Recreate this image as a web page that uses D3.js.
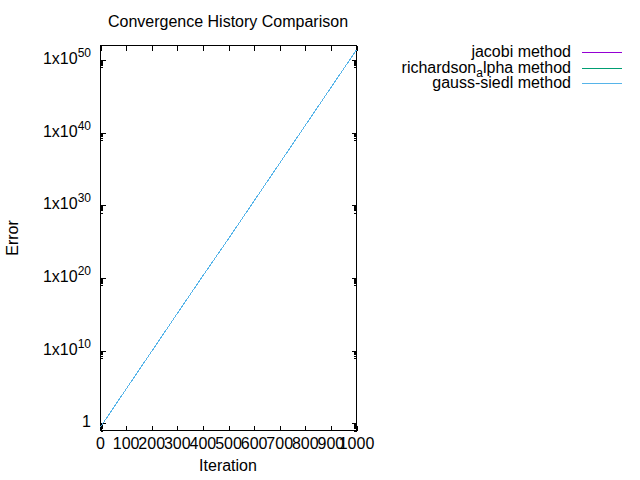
<!DOCTYPE html>
<html>
<head>
<meta charset="utf-8">
<script src="https://cdn.jsdelivr.net/npm/d3@7"></script>
<style>
  body { margin: 0; background: #fff; }
  svg { display: block; font-family: "Liberation Sans", Arial, sans-serif; }
</style>
</head>
<body>
<svg id="chart" width="640" height="480"></svg>
<script>
// values (error at every 100 iterations)
var iterations = [0, 100, 200, 300, 400, 500, 600, 700, 800, 900, 1000];
var gaussSiedel = [3e-1, 5e4, 8e9, 1.3e15, 2e20, 2.5e25, 4e30, 6.3e35, 1e41, 1.6e46, 2.5e51];
// jacobi and richardson are hidden under the gauss-siedel line
var jacobi = [3e-1, 5e4, 8e9, 1.3e15, 2e20, 2.5e25, 4e30, 6.3e35, 1e41, 1.6e46, 2.5e51];
var richardson = [3e-1, 5e4, 8e9, 1.3e15, 2e20, 2.5e25, 4e30, 6.3e35, 1e41, 1.6e46, 2.5e51];

var seriesNames = ["jacobi method", "richardson_alpha method", "gauss-siedl method"];
var seriesColors = ["#9400d3", "#009e73", "#56b4e9"];
var xTicks = [0, 100, 200, 300, 400, 500, 600, 700, 800, 900, 1000];
var yExponents = [0, 10, 20, 30, 40, 50];

var svg = d3.select("#chart");
var pLeft = 100.5, pRight = 356.5, pTop = 45.5, pBottom = 430.5;

var x = d3.scaleLinear().domain([0, 1000]).range([pLeft, pRight]);
var y = d3.scaleLog().domain([0.1, 1e52]).range([pBottom, pTop]);

// title
svg.append("text")
  .attr("x", 228).attr("y", 27)
  .attr("text-anchor", "middle")
  .style("font-size", "16px")
  .text("Convergence History Comparison");

var g = svg.append("g").attr("shape-rendering", "crispEdges");

// x ticks, bottom and mirrored top
xTicks.forEach(function(t) {
  var px = Math.round(x(t)) + 0.5;
  g.append("line").attr("x1", px).attr("x2", px).attr("y1", pBottom).attr("y2", pBottom - 5).attr("stroke", "#000");
  g.append("line").attr("x1", px).attr("x2", px).attr("y1", pTop).attr("y2", pTop + 5).attr("stroke", "#000");
  g.append("text")
    .attr("x", x(t)).attr("y", 449)
    .attr("text-anchor", "middle")
    .style("font-size", "16px")
    .text(t);
});

// y ticks with gnuplot-style minor tics below each major
yExponents.forEach(function(e) {
  var major = Math.pow(10, e);
  var py = Math.round(y(major)) + 0.5;
  [pLeft, pRight].forEach(function(side) {
    var dir = side == pLeft ? 1 : -1;
    g.append("line").attr("x1", side).attr("x2", side + dir * 5).attr("y1", py).attr("y2", py).attr("stroke", "#000");
    for (var k = 1; k <= 9; k++) {
      var v = k * major / 10;
      if (v < 0.1) continue;
      var my = Math.round(y(v)) + 0.5;
      g.append("line").attr("x1", side).attr("x2", side + dir * 2.5).attr("y1", my).attr("y2", my).attr("stroke", "#000");
    }
  });
  var lab = g.append("text")
    .attr("x", 91).attr("y", y(major) + 4)
    .attr("text-anchor", "end")
    .style("font-size", "16px");
  if (e == 0) {
    lab.text("1");
  } else {
    lab.append("tspan").text("1x10");
    lab.append("tspan").attr("dy", -7).style("font-size", "12px").text(e);
  }
});

// border
svg.append("rect")
  .attr("x", pLeft).attr("y", pTop)
  .attr("width", pRight - pLeft).attr("height", pBottom - pTop)
  .attr("fill", "none").attr("stroke", "#000")
  .attr("shape-rendering", "crispEdges");

// axis titles
svg.append("text")
  .attr("x", 228).attr("y", 471)
  .attr("text-anchor", "middle")
  .style("font-size", "16px")
  .text("Iteration");
svg.append("text")
  .attr("transform", "translate(18,238) rotate(-90)")
  .attr("text-anchor", "middle")
  .style("font-size", "16px")
  .text("Error");

// series lines (aliased like the gnuplot png, so the top one hides the others)
var line = d3.line()
  .x(function(d) { return x(d[0]); })
  .y(function(d) { return y(d[1]); });

[jacobi, richardson, gaussSiedel].forEach(function(vals, i) {
  svg.append("path")
    .datum(d3.zip(iterations, vals))
    .attr("d", line)
    .attr("fill", "none")
    .attr("stroke", seriesColors[i])
    .attr("stroke-width", 1)
    .attr("shape-rendering", "crispEdges");
});

// legend
seriesNames.forEach(function(name, i) {
  var ly = 52.5 + 15.5 * i;
  svg.append("line")
    .attr("x1", 582).attr("x2", 622).attr("y1", ly).attr("y2", ly)
    .attr("stroke", seriesColors[i])
    .attr("shape-rendering", "crispEdges");
  var t = svg.append("text")
    .attr("x", 571).attr("y", ly + 4.5)
    .attr("text-anchor", "end")
    .style("font-size", "16px");
  if (name.indexOf("_") > 0) {
    // enhanced text: "_a" becomes a subscript
    t.append("tspan").text("richardson");
    t.append("tspan").attr("dy", 4).style("font-size", "12px").text("a");
    t.append("tspan").attr("dy", -4).text("lpha method");
  } else {
    t.text(name);
  }
});
</script>
</body>
</html>
